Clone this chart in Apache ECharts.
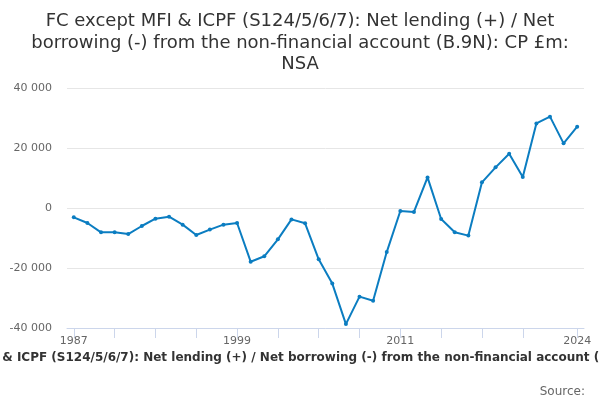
<!DOCTYPE html>
<html><head><meta charset="utf-8">
<script src="https://cdn.jsdelivr.net/npm/echarts@6/dist/echarts.min.js"></script>
<style>html,body{margin:0;padding:0;background:#fff}#c{width:600px;height:400px}</style>
</head><body><div id="c"></div>
<script>
const years = ["1987","1988","1989","1990","1991","1992","1993","1994","1995","1996","1997","1998","1999","2000","2001","2002","2003","2004","2005","2006","2007","2008","2009","2010","2011","2012","2013","2014","2015","2016","2017","2018","2019","2020","2021","2022","2023","2024"];
const values = [-3100,-5000,-8100,-8100,-8700,-6000,-3550,-2900,-5550,-9000,-7200,-5550,-5000,-17900,-16100,-10450,-3800,-5100,-17100,-25200,-38700,-29550,-30900,-14700,-1000,-1300,10200,-3670,-8100,-9200,8550,13550,18100,10330,28200,30450,21550,27100];
const yTicks = [-40000,-20000,0,20000,40000];
const xTickYears = ["1987","1990","1993","1996","1999","2002","2005","2008","2011","2014","2017","2020","2024"];
const xLabelYears = ["1987","1999","2011","2024"];
const titleText = "FC except MFI & ICPF (S124/5/6/7): Net lending (+) / Net\nborrowing (-) from the non-financial account (B.9N): CP £m:\nNSA";
const seriesName = "FC except MFI & ICPF (S124/5/6/7): Net lending (+) / Net borrowing (-) from the non-financial account (B.9N): CP £m: NSA";
const seriesData = values.map((v,i)=>[i,v]);
const chart = echarts.init(document.getElementById('c'));
chart.setOption({
  animation:false,
  textStyle:{fontFamily:'DejaVu Sans'},
  title:[{text:titleText,left:'center',top:6,textStyle:{fontFamily:'DejaVu Sans',fontSize:18,fontWeight:'normal',color:'#333',lineHeight:21.5}},
         {text:'Source:',right:10,top:381,textStyle:{fontFamily:'DejaVu Sans',fontSize:12,fontWeight:'normal',color:'#666'}}],
  graphic:[{type:'text',x:314,y:352,style:{text:seriesName,textAlign:'center',font:'bold 12px "DejaVu Sans"',fill:'#333'}}],
  grid:{left:67,right:16,top:88,bottom:72},
  xAxis:{type:'value',min:-0.5,max:years.length-0.5,
    splitLine:{show:false},
    axisLine:{show:true,onZero:false,lineStyle:{color:'#ccd6eb'}},
    axisTick:{show:true,length:10,lineStyle:{color:'#ccd6eb'},customValues:xTickYears.map(y=>years.indexOf(y))},
    axisLabel:{color:'#666',fontSize:11,margin:8,customValues:xLabelYears.map(y=>years.indexOf(y)),formatter:(v)=>years[Math.round(v)]}},
  yAxis:{type:'value',min:-40000,max:40000,interval:20000,
    axisLine:{show:false},axisTick:{show:false},
    splitLine:{lineStyle:{color:'#e6e6e6'}},
    axisLabel:{color:'#666',fontSize:11,margin:15,formatter:(v)=>yTicks.includes(v)?String(v).replace(/\B(?=(\d{3})+(?!\d))/g,' '):''}},
  series:[{type:'line',name:seriesName,data:seriesData,symbol:'circle',symbolSize:4,
    lineStyle:{color:'#0b7dc1',width:2},itemStyle:{color:'#0b7dc1'}}]
});
</script></body></html>
